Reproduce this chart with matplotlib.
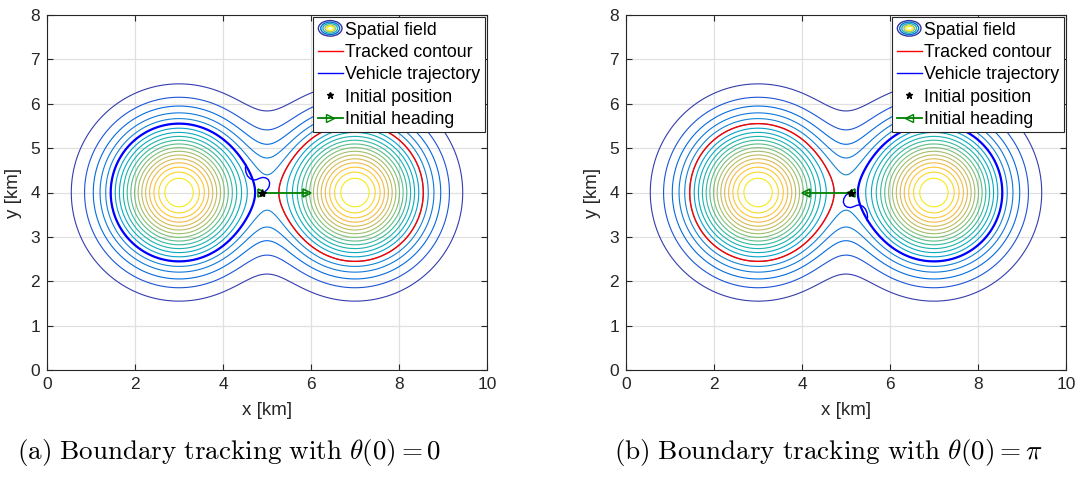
import numpy as np
import matplotlib
matplotlib.use("Agg")
import matplotlib.pyplot as plt
from matplotlib.colors import LinearSegmentedColormap, Normalize
from matplotlib.lines import Line2D
from matplotlib.patches import Ellipse
from matplotlib.legend_handler import HandlerBase

# ---------------- data ----------------
peak_x = [3.0, 7.0]
peak_y = [4.0, 4.0]
peak_sigma = 1.0
field_levels = [0.05, 0.10, 0.15, 0.20, 0.25, 0.30, 0.35, 0.40, 0.45, 0.50,
                0.55, 0.60, 0.65, 0.70, 0.75, 0.80, 0.85, 0.90, 0.95]
tracked_level = 0.30

# panel (a): theta(0) = 0
start_a = [4.89, 4.00]
heading_a_x = [4.89, 5.92]
heading_a_y = [4.00, 4.00]
loop_a_x = [4.89, 4.95, 5.01, 5.05, 5.06, 5.03, 4.97, 4.90, 4.83, 4.76, 4.69, 4.62, 4.56, 4.52, 4.51, 4.52]
loop_a_y = [4.00, 4.02, 4.07, 4.14, 4.22, 4.29, 4.33, 4.34, 4.32, 4.29, 4.28, 4.31, 4.37, 4.46, 4.55, 4.63]

# panel (b): theta(0) = pi
start_b = [5.11, 4.00]
heading_b_x = [5.11, 4.08]
heading_b_y = [4.00, 4.00]
loop_b_x = [5.11, 5.05, 4.99, 4.95, 4.94, 4.97, 5.03, 5.10, 5.17, 5.24, 5.31, 5.38, 5.44, 5.48, 5.49, 5.48]
loop_b_y = [4.00, 3.98, 3.93, 3.86, 3.78, 3.71, 3.67, 3.66, 3.68, 3.71, 3.72, 3.69, 3.63, 3.54, 3.45, 3.37]

x_ticks = [0, 2, 4, 6, 8, 10]
y_ticks = [0, 1, 2, 3, 4, 5, 6, 7, 8]
captions = [r"$\mathrm{(a)\ Boundary\ tracking\ with\ }\theta(0) = 0$",
            r"$\mathrm{(b)\ Boundary\ tracking\ with\ }\theta(0) = \pi$"]

# ---------------- style ----------------
plt.rcParams["font.family"] = ["Liberation Sans", "DejaVu Sans"]
plt.rcParams["mathtext.fontset"] = "cm"

_parula = [
    [0.2081, 0.1663, 0.5292], [0.2123, 0.2138, 0.6270], [0.1959, 0.2645, 0.7279],
    [0.1253, 0.3242, 0.8303], [0.0117, 0.3875, 0.8820], [0.0165, 0.4266, 0.8786],
    [0.0498, 0.4586, 0.8641], [0.0723, 0.4887, 0.8467], [0.0793, 0.5200, 0.8312],
    [0.0641, 0.5570, 0.8240], [0.0343, 0.5966, 0.8199], [0.0239, 0.6287, 0.8038],
    [0.0228, 0.6535, 0.7768], [0.0384, 0.6743, 0.7436], [0.0843, 0.6928, 0.7062],
    [0.1453, 0.7098, 0.6646], [0.2178, 0.7250, 0.6193], [0.3022, 0.7376, 0.5712],
    [0.3953, 0.7459, 0.5244], [0.4871, 0.7491, 0.4840], [0.5709, 0.7485, 0.4494],
    [0.6473, 0.7456, 0.4188], [0.7184, 0.7411, 0.3905], [0.7858, 0.7356, 0.3633],
    [0.8507, 0.7299, 0.3360], [0.9139, 0.7258, 0.3063], [0.9739, 0.7314, 0.2666],
    [0.9990, 0.7653, 0.2164], [0.9880, 0.8066, 0.1794], [0.9697, 0.8481, 0.1475],
    [0.9589, 0.8949, 0.1132], [0.9661, 0.9514, 0.0755], [0.9763, 0.9831, 0.0538]]
parula = LinearSegmentedColormap.from_list("parula", _parula, N=256)

GREEN = (0.0, 0.5, 0.0)
AXC = (0.15, 0.15, 0.15)


class FieldProxy:
    pass


class FieldHandler(HandlerBase):
    def create_artists(self, legend, orig_handle, xdescent, ydescent,
                       width, height, fontsize, trans):
        cx = width / 2 - xdescent
        cy = height / 2 - ydescent
        arts = []
        for frac, val in [(1.0, 0.03), (0.80, 0.15), (0.62, 0.45), (0.44, 0.65), (0.28, 0.97)]:
            e = Ellipse((cx, cy), width * 0.95 * frac, height * 1.25 * frac,
                        fill=False, edgecolor=parula(val), lw=1.0, transform=trans)
            arts.append(e)
        return arts


# ---------------- field ----------------
xg = np.linspace(0, 10, 801)
yg = np.linspace(0, 8, 641)
X, Y = np.meshgrid(xg, yg)
Z = np.zeros_like(X)
for cx, cy in zip(peak_x, peak_y):
    Z += np.exp(-((X - cx) ** 2 + (Y - cy) ** 2) / (2 * peak_sigma ** 2))
norm = Normalize(vmin=Z.min(), vmax=Z.max())

fig = plt.figure(figsize=(10.84, 4.78), dpi=100)
ax_pos = [[47 / 1084, 108 / 478, 440 / 1084, 355 / 478],
          [626 / 1084, 108 / 478, 440 / 1084, 355 / 478]]

panels = [
    dict(start=start_a, hx=heading_a_x, hy=heading_a_y, lx=loop_a_x, ly=loop_a_y,
         traj_mask=X < 5, track_mask=X > 5, hmarker=">"),
    dict(start=start_b, hx=heading_b_x, hy=heading_b_y, lx=loop_b_x, ly=loop_b_y,
         traj_mask=X > 5, track_mask=X < 5, hmarker="<"),
]

for i, p in enumerate(panels):
    ax = fig.add_axes(ax_pos[i])
    ax.contour(X, Y, Z, levels=field_levels, cmap=parula, norm=norm, linewidths=0.8, zorder=2)
    ax.contour(X, Y, np.where(p["track_mask"], Z, np.nan), levels=[tracked_level],
               colors=[(1, 0, 0)], linewidths=1.0, zorder=3)
    ax.contour(X, Y, np.where(p["traj_mask"], Z, np.nan), levels=[tracked_level],
               colors=[(0, 0, 1)], linewidths=1.6, zorder=4)
    ax.plot(p["lx"], p["ly"], color=(0, 0, 1), lw=1.0, zorder=4)
    ax.plot(p["hx"], p["hy"], "-", color=GREEN, lw=1.3, marker=p["hmarker"],
            mfc="none", mec=GREEN, mew=1.2, ms=6, zorder=5)
    ax.plot([p["start"][0]], [p["start"][1]], "*", color="k", ms=6, zorder=6)

    ax.set_xlim(0, 10)
    ax.set_ylim(0, 8)
    ax.set_xticks(x_ticks)
    ax.set_yticks(y_ticks)
    ax.grid(True, color=(0.88, 0.88, 0.88), lw=0.9)
    ax.set_axisbelow(True)
    ax.tick_params(direction="in", top=True, right=True, labelsize=12.5,
                   colors=AXC, length=4, pad=5)
    for s in ax.spines.values():
        s.set_color(AXC)
        s.set_linewidth(0.8)
    ax.set_xlabel("x [km]", fontsize=13.5, color=AXC, labelpad=7)
    ax.set_ylabel("y [km]", fontsize=13.5, color=AXC, labelpad=6)

    handles = [FieldProxy(),
               Line2D([], [], color=(1, 0, 0), lw=1.0),
               Line2D([], [], color=(0, 0, 1), lw=1.0),
               Line2D([], [], ls="none", marker="*", color="k", ms=5),
               Line2D([], [], color=GREEN, lw=1.3, marker=p["hmarker"], mfc="none",
                      mec=GREEN, ms=6, markevery=[1])]
    labels = ["Spatial field", "Tracked contour", "Vehicle trajectory",
              "Initial position", "Initial heading"]
    leg = ax.legend(handles, labels, loc="upper right", fontsize=12.8,
                    handler_map={FieldProxy: FieldHandler()},
                    handlelength=1.4, handletextpad=0.15, labelspacing=0.3,
                    borderpad=0.25, borderaxespad=0.12, frameon=True, fancybox=False,
                    framealpha=1.0)
    leg.get_frame().set_edgecolor(AXC)
    leg.get_frame().set_linewidth(0.8)
    leg.set_zorder(10)

fig.text(229 / 1084, 1 - 453 / 478, captions[0], ha="center", va="center", fontsize=19.5)
fig.text(828 / 1084, 1 - 453 / 478, captions[1], ha="center", va="center", fontsize=19.5)

fig.savefig("out.png", dpi=100)
